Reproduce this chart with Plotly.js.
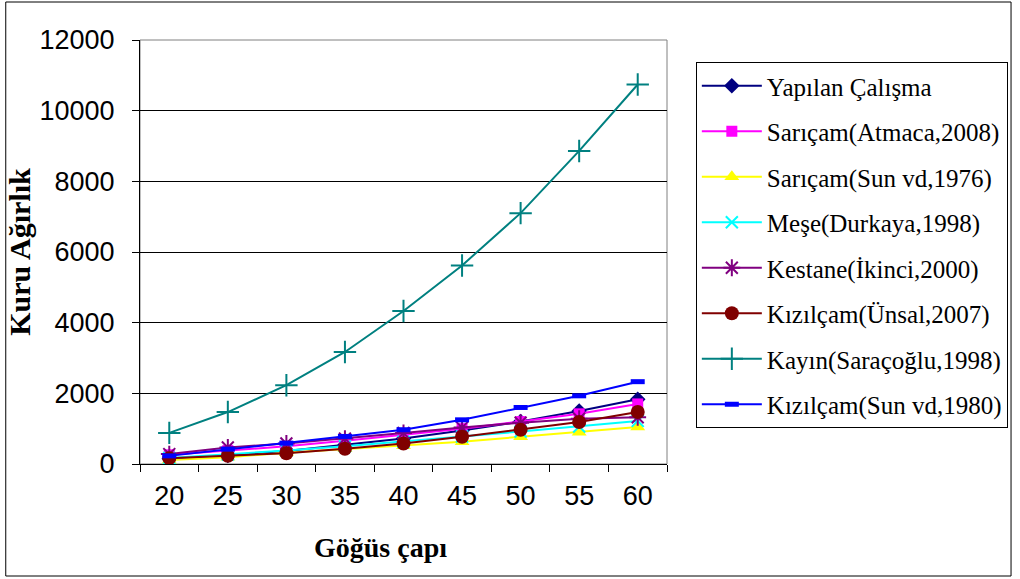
<!DOCTYPE html>
<html>
<head>
<meta charset="utf-8">
<script src="https://cdn.plot.ly/plotly-3.0.1.min.js"></script>
<style>html,body{margin:0;padding:0;background:#fff;}#chart{width:1020px;height:579px;}</style>
</head>
<body>
<div id="chart"></div>
<script>
const categories = ['20','25','30','35','40','45','50','55','60'];
const yapilanCalisma = [150, 245, 370, 535, 720, 945, 1200, 1500, 1830];
const saricamAtmaca = [260, 380, 500, 660, 820, 1000, 1200, 1420, 1700];
const saricamSun1976 = [110, 190, 320, 430, 520, 630, 770, 900, 1050];
const meseDurkaya = [170, 270, 380, 500, 630, 780, 920, 1060, 1220];
const kestaneIkinci = [280, 470, 580, 720, 880, 1030, 1170, 1280, 1320];
const kizilcamUnsal = [165, 230, 305, 430, 580, 770, 970, 1190, 1470];
const kayinSaracoglu = [880, 1470, 2230, 3170, 4330, 5620, 7100, 8860, 10740];
const kizilcamSun1980 = [230, 420, 590, 780, 970, 1250, 1600, 1930, 2330];

const seriesNames = ['Yapılan Çalışma','Sarıçam(Atmaca,2008)','Sarıçam(Sun vd,1976)','Meşe(Durkaya,1998)','Kestane(İkinci,2000)','Kızılçam(Ünsal,2007)','Kayın(Saraçoğlu,1998)','Kızılçam(Sun vd,1980)'];
const seriesValues = [yapilanCalisma, saricamAtmaca, saricamSun1976, meseDurkaya, kestaneIkinci, kizilcamUnsal, kayinSaracoglu, kizilcamSun1980];
const colors = ['#000080','#FF00FF','#FFFF00','#00FFFF','#800080','#800000','#008080','#0000FF'];
const symbols = ['diamond','square','triangle-up','x-thin','asterisk','circle','cross-thin','line-ew'];
const sizes = [12, 11, 13, 12, 14, 14, 16, 10];

const traces = seriesValues.map((vals, i) => {
  const open = ['x-thin','asterisk','cross-thin','line-ew'].includes(symbols[i]);
  return {
    type: 'scatter', mode: 'lines+markers',
    x: categories, y: vals, name: seriesNames[i],
    legendgroup: 'g' + i,
    line: {color: colors[i], width: 2},
    marker: {symbol: symbols[i], size: sizes[i], color: colors[i],
      line: {color: colors[i], width: open ? (symbols[i]==='line-ew' ? 5 : 2) : 0}}
  };
});

const L = 140, R = 670, T = 40, B = 464;
const px = v => (v - L) / (R - L);
const py = v => (B - v) / (B - T);

const layout = {
  width: 1020, height: 579,
  margin: {l: 140, r: 350, t: 40, b: 115},
  paper_bgcolor: '#fff', plot_bgcolor: '#fff',
  showlegend: true,
  font: {family: 'Liberation Sans, Arial, sans-serif', color: '#000'},
  xaxis: {
    type: 'category', range: [-0.5, 8.5], tickson: 'boundaries', ticks: 'outside', ticklen: 7, tickcolor: '#000',
    showline: true, linecolor: '#000', linewidth: 1, showgrid: false, zeroline: false,
    tickfont: {family: 'Liberation Sans, Arial, sans-serif', size: 27, color: '#000'},
    ticklabelstandoff: 8
  },
  yaxis: {
    range: [0, 12000], dtick: 2000, tickformat: 'd', ticks: 'outside', ticklen: 7, tickcolor: '#000',
    showline: true, linecolor: '#000', linewidth: 1, showgrid: true, gridcolor: '#000', gridwidth: 1, zeroline: false,
    tickfont: {family: 'Liberation Sans, Arial, sans-serif', size: 27, color: '#000'},
    ticklabelstandoff: 12,
    title: {text: 'Kuru Ağırlık', font: {family: 'Liberation Serif, Times New Roman, serif', size: 30, color: '#000', weight: 'bold'}, standoff: 0}
  },
  annotations: [
    {text: 'Göğüs çapı', xref: 'paper', yref: 'paper', x: px(382), y: py(547), xanchor: 'center', yanchor: 'middle', showarrow: false,
     font: {family: 'Liberation Serif, Times New Roman, serif', size: 28, color: '#000', weight: 'bold'}}
  ],
  legend: {
    x: px(699), y: py(62), xanchor: 'left', yanchor: 'top',
    bordercolor: '#000', borderwidth: 1, bgcolor: '#fff',
    font: {family: 'Liberation Serif, Times New Roman, serif', size: 25, color: '#000'},
    itemwidth: 60, tracegroupgap: 10, traceorder: 'grouped'
  },
  shapes: [
    {type: 'rect', xref: 'paper', yref: 'paper', x0: 0, x1: 1, y0: 0, y1: 1, line: {color: '#808080', width: 1}, layer: 'below'},
    {type: 'rect', xref: 'paper', yref: 'paper', x0: px(5), x1: px(1016), y0: py(576), y1: py(2), line: {color: '#000', width: 1}}
  ]
};

Plotly.newPlot('chart', traces, layout, {displayModeBar: false, staticPlot: true});
</script>
</body>
</html>
